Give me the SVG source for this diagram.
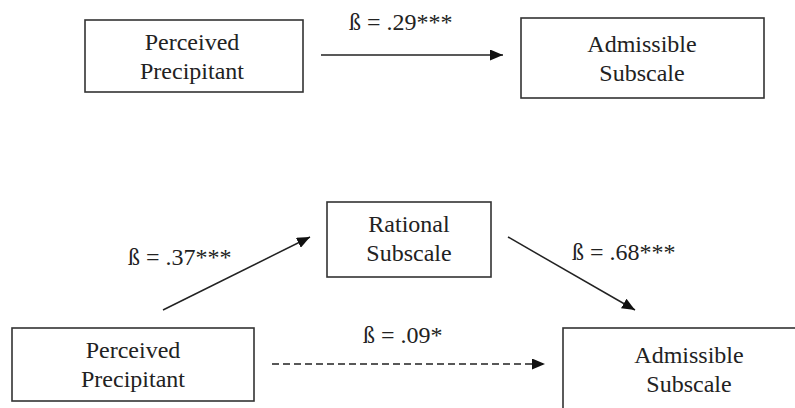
<svg xmlns="http://www.w3.org/2000/svg" width="795" height="408" viewBox="0 0 795 408">
<style>
text{font-family:'Liberation Serif','DejaVu Serif',serif;font-size:24px;fill:#222}
.t{text-anchor:middle}
.box{fill:#fff;stroke:#333;stroke-width:1.6}
.c{stroke:#222;stroke-width:1.5;fill:none}
</style>
<defs>
<marker id="ah" markerWidth="13" markerHeight="11" refX="13" refY="5.5" orient="auto" markerUnits="userSpaceOnUse">
<path d="M0,0 L13,5.5 L0,11 Z" fill="#111"/>
</marker>
</defs>
<rect width="795" height="408" fill="#fff"/>
<g id="connectors">
<line class="c" x1="321" y1="55" x2="503" y2="55" marker-end="url(#ah)"/>
<line class="c" x1="163" y1="310" x2="310" y2="237" marker-end="url(#ah)"/>
<line class="c" x1="508" y1="237" x2="635" y2="310" marker-end="url(#ah)"/>
<line class="c" x1="272" y1="364" x2="545" y2="364" stroke-dasharray="7,4" marker-end="url(#ah)"/>
<text x="349" y="30">ß = .29***</text>
<text x="128" y="265">ß = .37***</text>
<text x="572" y="260">ß = .68***</text>
<text x="363" y="343">ß = .09*</text>
</g>
<g id="pp1">
<rect class="box" x="85" y="20" width="218" height="72"/>
<text class="t" x="192" y="50">Perceived</text>
<text class="t" x="192" y="79">Precipitant</text>
</g>
<g id="as1">
<rect class="box" x="521" y="18" width="243" height="80"/>
<text class="t" x="642" y="52">Admissible</text>
<text class="t" x="642" y="81">Subscale</text>
</g>
<g id="rs">
<rect class="box" x="327" y="202" width="164" height="75"/>
<text class="t" x="409" y="232">Rational</text>
<text class="t" x="409" y="261">Subscale</text>
</g>
<g id="pp2">
<rect class="box" x="12" y="328" width="242" height="73"/>
<text class="t" x="133" y="358">Perceived</text>
<text class="t" x="133" y="387">Precipitant</text>
</g>
<g id="as2">
<rect class="box" x="563" y="328" width="260" height="100"/>
<text class="t" x="689" y="363">Admissible</text>
<text class="t" x="689" y="392">Subscale</text>
</g>
</svg>
